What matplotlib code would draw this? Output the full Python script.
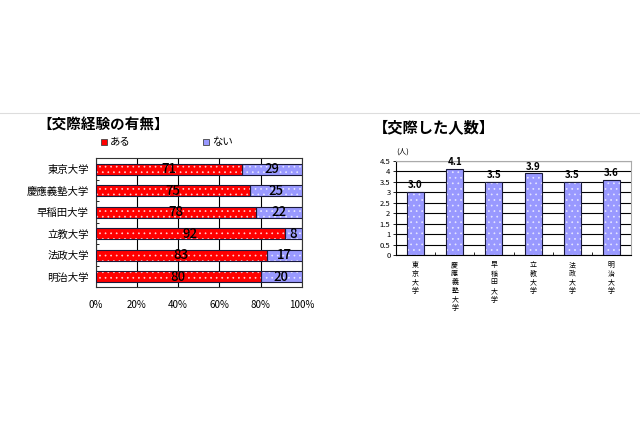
import numpy as np
import matplotlib
matplotlib.use("Agg")
import matplotlib.pyplot as plt
from matplotlib.patches import Rectangle
from matplotlib.lines import Line2D

plt.rcParams['font.family'] = ['Noto Sans CJK JP', 'DejaVu Sans']
plt.rcParams['hatch.linewidth'] = 0.5

# data
universities = ['東京大学', '慶應義塾大学', '早稲田大学', '立教大学', '法政大学', '明治大学']
yes_pct = [71, 75, 78, 92, 83, 80]
no_pct = [29, 25, 22, 8, 17, 20]
partners = [3.0, 4.1, 3.5, 3.9, 3.5, 3.6]
pct_ticks = [0, 20, 40, 60, 80, 100]
count_ticks = [0, 0.5, 1, 1.5, 2, 2.5, 3, 3.5, 4, 4.5]

RED = '#ff0000'
BLUE = '#9999ff'
EDGE = '#1a1a3a'

fig = plt.figure(figsize=(6.4, 4.26), dpi=100)
fig.add_artist(Line2D([0, 1], [1 - 113 / 426, 1 - 113 / 426], color='#dddddd', lw=0.8))


def hatched_barh(ax, y, w, left, color, h):
    ax.barh(y, w, left=left, height=h, color=color, edgecolor='#ffd0d0' if color == RED else '#e6e6ff',
            hatch='...', lw=0, zorder=3)
    ax.barh(y, w, left=left, height=h, fill=False, edgecolor=EDGE, lw=0.8, zorder=4)


def hatched_bar(ax, x, hgt, color, w):
    ax.bar(x, hgt, width=w, color=color, edgecolor='#e6e6ff', hatch='...', lw=0, zorder=3)
    ax.bar(x, hgt, width=w, fill=False, edgecolor=EDGE, lw=0.8, zorder=4)


# ---- left: 交際経験の有無
ax1 = fig.add_axes([95.7 / 640, 1 - 287.3 / 426, 206 / 640, 129 / 426])
y = np.arange(len(universities))
bh = 0.51
hatched_barh(ax1, y, yes_pct, 0, RED, bh)
hatched_barh(ax1, y, no_pct, yes_pct, BLUE, bh)
for i in range(len(universities)):
    ax1.text(yes_pct[i] / 2, y[i], str(yes_pct[i]), ha='center', va='center',
             fontsize=9.5, fontweight='medium', color='black', zorder=6)
    ax1.text(yes_pct[i] + no_pct[i] / 2, y[i], str(no_pct[i]), ha='center', va='center',
             fontsize=9.5, fontweight='medium', color='black', zorder=6)
ax1.set_xlim(0, 100)
ax1.set_ylim(len(universities) - 1 + 0.44, -0.44)
ax1.set_xticks(pct_ticks)
ax1.set_xticklabels([f'{t}%' for t in pct_ticks], fontsize=7)
ax1.set_yticks(y)
ax1.set_yticklabels(universities, fontsize=7.5)
ax1.set_yticks(np.arange(len(universities) + 1) - 0.5, minor=True)
ax1.tick_params(axis='x', length=0, pad=9)
ax1.tick_params(axis='y', which='major', length=0, pad=5)
ax1.tick_params(axis='y', which='minor', length=2, direction='in', width=0.6)
ax1.grid(axis='x', color='black', lw=0.8, zorder=1)
for s in ax1.spines.values():
    s.set_color('#333333')
    s.set_linewidth(0.8)

fig.text(37 / 640, 1 - 125 / 426, '【交際経験の有無】', fontsize=10.5, fontweight='bold',
         va='center', ha='left')
for sx, col, lab in [(101, RED, 'ある'), (203, BLUE, 'ない')]:
    fig.add_artist(Rectangle((sx / 640, 1 - 145 / 426), 6 / 640, 6 / 426,
                             transform=fig.transFigure, facecolor=col,
                             edgecolor='#444444', lw=0.6))
    fig.text((sx + 9) / 640, 1 - 141.7 / 426, lab, fontsize=7.5, va='center', ha='left')

# ---- right: 交際した人数
ax2 = fig.add_axes([396 / 640, 1 - 255 / 426, 235 / 640, 94.3 / 426])
x = np.arange(len(universities))
hatched_bar(ax2, x, partners, BLUE, 0.43)
for i in range(len(universities)):
    ax2.text(x[i], partners[i] + 0.08, f'{partners[i]:.1f}', ha='center', va='bottom',
             fontsize=7, fontweight='bold', zorder=5)
    ax2.text(x[i], -0.3, '\n'.join(universities[i]), ha='center', va='top',
             fontsize=5, linespacing=1.1)
ax2.set_xlim(-0.5, len(universities) - 0.5)
ax2.set_ylim(0, 4.5)
ax2.set_yticks(count_ticks)
ax2.set_yticklabels([f'{t:g}' for t in count_ticks], fontsize=5.5)
ax2.set_xticks(np.arange(len(universities) + 1) - 0.5)
ax2.set_xticklabels([])
ax2.tick_params(axis='x', length=2, direction='in', width=0.6)
ax2.tick_params(axis='y', length=2, width=0.6, pad=2)
ax2.grid(axis='y', color='black', lw=0.8, zorder=1)
ax2.spines['left'].set_color('black')
ax2.spines['bottom'].set_color('black')
ax2.spines['top'].set_color('#aaaaaa')
ax2.spines['right'].set_color('#aaaaaa')
for s in ax2.spines.values():
    s.set_linewidth(0.8)
ax2.text(0.0, 1.1, '(人)', transform=ax2.transAxes, fontsize=5.5, ha='left', va='center')

fig.text(373 / 640, 1 - 127 / 426, '【交際した人数】', fontsize=11, fontweight='bold',
         va='center', ha='left')

fig.savefig('out.png', dpi=100)
